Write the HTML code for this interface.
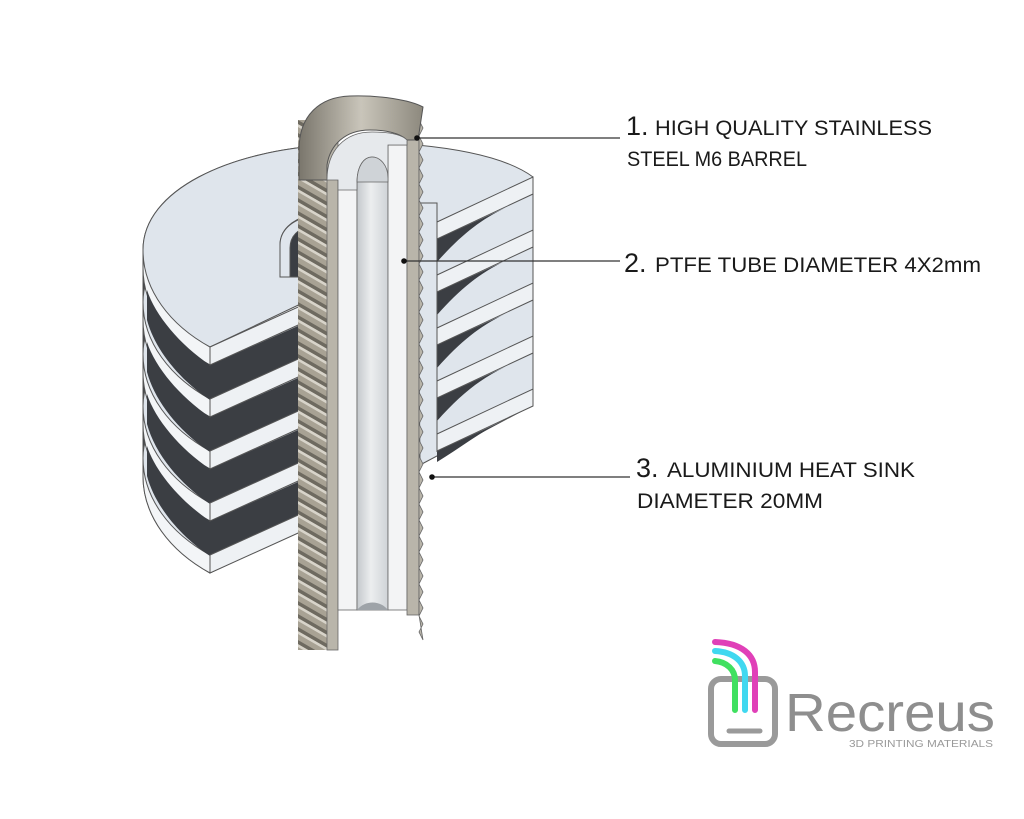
<!DOCTYPE html>
<html><head><meta charset="utf-8"><style>
html,body{margin:0;padding:0;background:#fff;}
svg{display:block;}
text{font-family:"Liberation Sans",sans-serif;}
</style></head><body>
<svg width="1024" height="819" viewBox="0 0 1024 819" xmlns="http://www.w3.org/2000/svg">
<defs>
<pattern id="thr" width="24" height="13" patternUnits="userSpaceOnUse" patternTransform="skewY(30)">
<rect width="24" height="13" fill="#a8a294"/>
<rect y="0" width="24" height="4" fill="#6e6a60"/>
<rect y="4" width="24" height="3" fill="#d8d4ca"/>
</pattern>
<linearGradient id="bore" x1="0" x2="1">
<stop offset="0" stop-color="#c4c8cc"/><stop offset="0.45" stop-color="#eceeef"/><stop offset="1" stop-color="#cfd3d7"/>
</linearGradient>
<linearGradient id="lip" x1="0" x2="1">
<stop offset="0" stop-color="#7a766c"/><stop offset="0.5" stop-color="#c9c5ba"/><stop offset="1" stop-color="#8d897e"/>
</linearGradient>
</defs>
<rect width="1024" height="819" fill="#fff"/>

<!-- LEFT FIN STACK -->
<g stroke="#555" stroke-width="1">
<path d="M330,145 C230,150 143,190 143,250 L143,476 C143,516 170,551 210,573 L330,517 Z" fill="#3b3e43"/>
<path d="M330,290 L210,347 C170,325 143,290 143,250 C143,190 230,150 330,145 Z" transform="translate(0,226)" fill="#f3f5f7"/>
<path d="M330,290 L210,347 C170,325 143,290 143,250 C143,190 230,150 330,145 Z" transform="translate(0,208)" fill="#dfe5ec"/>
<path d="M330,290 L210,347 C170,325 143,290 143,250 C143,190 230,150 330,145 Z" transform="translate(0,174)" fill="#f3f5f7"/>
<path d="M330,290 L210,347 C170,325 143,290 143,250 C143,190 230,150 330,145 Z" transform="translate(0,156)" fill="#dfe5ec"/>
<path d="M330,290 L210,347 C170,325 143,290 143,250 C143,190 230,150 330,145 Z" transform="translate(0,122)" fill="#f3f5f7"/>
<path d="M330,290 L210,347 C170,325 143,290 143,250 C143,190 230,150 330,145 Z" transform="translate(0,104)" fill="#dfe5ec"/>
<path d="M330,290 L210,347 C170,325 143,290 143,250 C143,190 230,150 330,145 Z" transform="translate(0,70)" fill="#f3f5f7"/>
<path d="M330,290 L210,347 C170,325 143,290 143,250 C143,190 230,150 330,145 Z" transform="translate(0,52)" fill="#dfe5ec"/>
<path d="M330,290 L210,347 C170,325 143,290 143,250 C143,190 230,150 330,145 Z" transform="translate(0,18)" fill="#f3f5f7"/>
</g>
<g fill="#3b3e43">
<path d="M147,290 C155,315 180,345 210,365 L307,322 L307,356 L210,400 C180,380 155,350 147,320 Z"/>
<path d="M147,342 C155,367 180,397 210,417 L307,374 L307,408 L210,452 C180,432 155,402 147,372 Z"/>
<path d="M147,394 C155,419 180,449 210,469 L307,426 L307,460 L210,504 C180,484 155,454 147,424 Z"/>
<path d="M147,446 C155,471 180,501 210,521 L307,478 L307,512 L210,556 C180,536 155,506 147,476 Z"/>
</g>
<g stroke="#555" stroke-width="1">
<path d="M330,290 L210,347 C170,325 143,290 143,250 C143,190 230,150 330,145 Z" fill="#dfe5ec"/>
<path d="M210,347 L307,303 L307,321 L210,365 Z" fill="#eef1f4"/>
<path d="M210,399 L307,355 L307,373 L210,417 Z" fill="#eef1f4"/>
<path d="M210,451 L307,407 L307,425 L210,469 Z" fill="#eef1f4"/>
<path d="M210,503 L307,459 L307,477 L210,521 Z" fill="#eef1f4"/>
<path d="M210,555 L307,511 L307,529 L210,573 Z" fill="#eef1f4"/>
<path d="M280,245 C280,230 292,220 307,216 L307,277 L280,277 Z" fill="#3b3e43"/>
<path d="M280,245 C280,230 292,220 310,216 L310,226 C298,229 290,236 290,248 L290,277 L280,277 Z" fill="#dfe5ec"/>
<rect x="307" y="277" width="20" height="300" fill="#e6ebf0"/>
</g>

<!-- RIGHT FIN STACK -->
<g stroke="#555" stroke-width="1">
<path d="M417,145 C470,150 510,160 533,177 L533,405 L420,465 Z" fill="#dfe5ec"/>
<path d="M437,239 L505,208 C480,220 460,236 437,262 Z" fill="#3b3e43" stroke="none"/>
<path d="M437,292 L505,261 C480,273 460,289 437,315 Z" fill="#3b3e43" stroke="none"/>
<path d="M437,345 L505,314 C480,326 460,342 437,368 Z" fill="#3b3e43" stroke="none"/>
<path d="M437,398 L505,367 C480,379 460,395 437,421 Z" fill="#3b3e43" stroke="none"/>
<path d="M437,451 L505,420 C480,432 460,448 437,462 Z" fill="#3b3e43" stroke="none"/>
<path d="M437,222 L533,177 L533,194 L437,239 Z" fill="#eef1f4"/>
<path d="M437,275 L533,230 L533,247 L437,292 Z" fill="#eef1f4"/>
<path d="M437,328 L533,283 L533,300 L437,345 Z" fill="#eef1f4"/>
<path d="M437,381 L533,336 L533,353 L437,398 Z" fill="#eef1f4"/>
<path d="M437,434 L533,389 L533,406 L437,451 Z" fill="#eef1f4"/>
<path d="M417,203 L437,203 L437,222" fill="none"/>
<line x1="437" y1="222" x2="437" y2="452"/>
</g>

<!-- BARREL -->
<rect x="298" y="120" width="30" height="530" fill="url(#thr)"/>
<rect x="327" y="140" width="11" height="510" fill="#b9b5aa" stroke="#666" stroke-width="0.8"/>
<rect x="338" y="160" width="19" height="450" fill="#f3f4f5" stroke="#666" stroke-width="0.8"/>
<rect x="357" y="180" width="31" height="430" fill="url(#bore)" stroke="#666" stroke-width="0.8"/>
<rect x="388" y="145" width="19" height="465" fill="#f3f4f5" stroke="#666" stroke-width="0.8"/>
<rect x="407" y="120" width="12" height="495" fill="#b9b5aa" stroke="#666" stroke-width="0.8"/>
<path d="M419,120 l4,8 l-4,8 l4,8 l-4,8 l4,8 l-4,8 l4,8 l-4,8 l4,8 l-4,8 l4,8 l-4,8 l4,8 l-4,8 l4,8 l-4,8 l4,8 l-4,8 l4,8 l-4,8 l4,8 l-4,8 l4,8 l-4,8 l4,8 l-4,8 l4,8 l-4,8 l4,8 l-4,8 l4,8 l-4,8 l4,8 l-4,8 l4,8 l-4,8 l4,8 l-4,8 l4,8 l-4,8 l4,8 l-4,8 l4,8 l-4,8 l4,8 l-4,8 l4,8 l-4,8 l4,8 l-4,8 l4,8 l-4,8 l4,8 l-4,8 l4,8 l-4,8 l4,8 l-4,8 l4,8 l-4,8 l4,8 l-4,8 l4,8 l-4,8 l4,8 L419,615 Z" fill="#b9b5aa" stroke="#666" stroke-width="0.8"/>
<path d="M357,610 C365,600 380,600 388,610 Z" fill="#9ea3a8"/>
<!-- top lip -->
<path d="M299,150 C299,115 320,97 350,96 C380,95 410,100 423,107 L418,140 L407,140 C400,133 385,130 370,130 C345,130 330,145 327,165 L327,180 L299,180 Z" fill="url(#lip)" stroke="#555" stroke-width="1"/>
<path d="M327,180 C327,150 345,132 372,132 C390,132 402,135 407,140 L407,145 L388,145 L388,178 C386,164 380,157 372,157 C364,157 358,165 357,180 L357,190 L338,190 L338,180 Z" fill="#e6e9ec" stroke="#666" stroke-width="0.8"/>
<path d="M357,182 C357,166 364,157 372,157 C380,157 388,165 388,178 L388,182 Z" fill="#cfd3d7" stroke="#666" stroke-width="0.8"/>

<!-- LEADER LINES -->
<g stroke="#333" stroke-width="1.2">
<line x1="417" y1="138" x2="620" y2="138"/>
<line x1="404" y1="261" x2="620" y2="261"/>
<line x1="432" y1="477" x2="630" y2="477"/>
</g>
<g fill="#111"><circle cx="417" cy="138" r="2.8"/><circle cx="404" cy="261" r="2.8"/><circle cx="432" cy="477" r="2.8"/></g>

<!-- LABELS -->
<g fill="#1a1a1a">
<text x="626" y="135" font-size="27">1.</text>
<text x="655" y="135" font-size="21" textLength="277" lengthAdjust="spacingAndGlyphs">HIGH QUALITY STAINLESS</text>
<text x="627" y="166" font-size="21" textLength="180" lengthAdjust="spacingAndGlyphs">STEEL M6 BARREL</text>
<text x="624" y="272" font-size="27">2.</text>
<text x="655" y="272" font-size="21" textLength="326" lengthAdjust="spacingAndGlyphs">PTFE TUBE  DIAMETER 4X2mm</text>
<text x="636" y="477" font-size="27">3.</text>
<text x="667" y="477" font-size="21" textLength="248" lengthAdjust="spacingAndGlyphs">ALUMINIUM HEAT SINK</text>
<text x="637" y="508" font-size="21" textLength="186" lengthAdjust="spacingAndGlyphs">DIAMETER 20MM</text>
</g>

<!-- LOGO -->
<g fill="none" stroke-linecap="round" stroke-width="6">
<rect x="711" y="679" width="64" height="65" rx="10" stroke="#9a9a9a" stroke-width="6"/>
<path d="M755,710 L755,672 C755,655 742,643 715,642" stroke="#e040b8"/>
<path d="M745,710 L745,676 C745,662 734,652 715,651" stroke="#40d8f0"/>
<path d="M735,710 L735,680 C735,670 727,662 715,661" stroke="#40e060"/>
<line x1="729" y1="731" x2="760" y2="731" stroke="#9a9a9a" stroke-width="5"/>
</g>
<text x="785" y="731" font-size="54" fill="#8e8e8e" textLength="210" lengthAdjust="spacingAndGlyphs">Recreus</text>
<text x="849" y="747" font-size="10" fill="#9a9a9a" textLength="144" lengthAdjust="spacingAndGlyphs">3D PRINTING MATERIALS</text>
</svg>
</body></html>
